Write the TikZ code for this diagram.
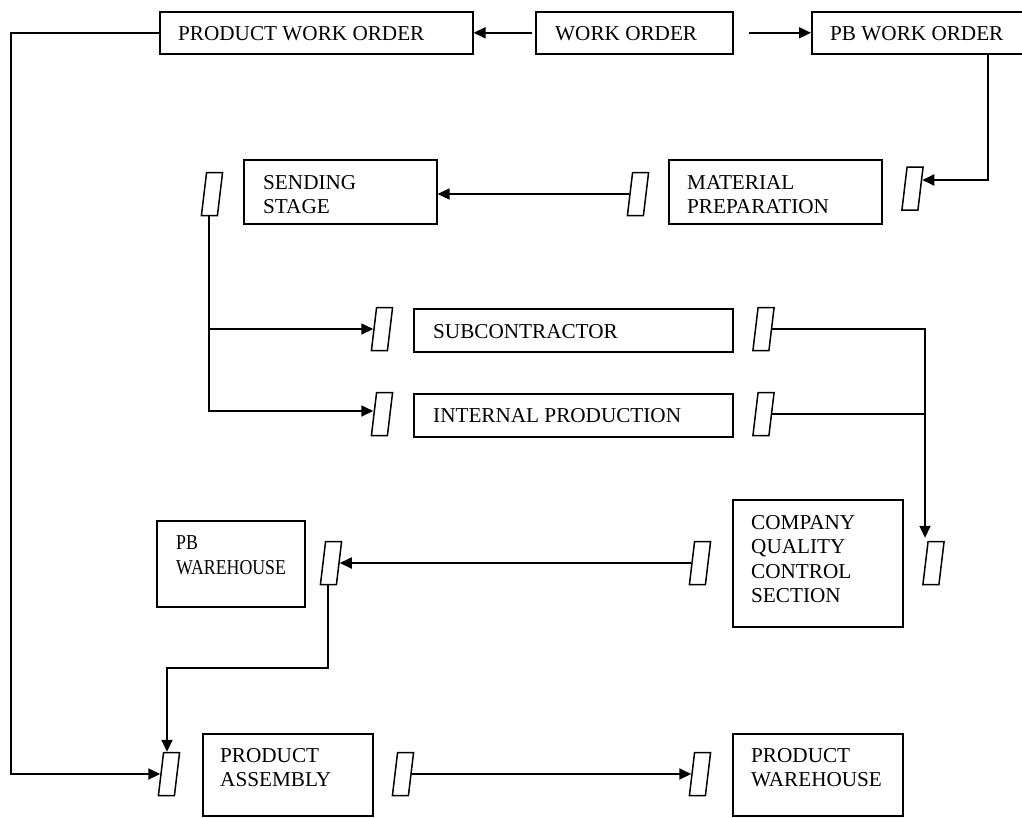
\documentclass[tikz,border=0pt]{standalone}
\usepackage{fontspec}
\setmainfont{Liberation Serif}
\newfontfamily\narrowserif[FakeStretch=0.84]{Liberation Serif}
\usetikzlibrary{arrows.meta}

\tikzset{
  proc/.style={draw, line width=1.6pt, anchor=north west, inner sep=0pt},
  lbl/.style={anchor=north west, inner sep=0pt, align=left,
              font=\fontsize{21.2}{24.5}\selectfont},
  store/.style={draw, line width=1.5pt, inner sep=0pt,
                minimum width=16pt, minimum height=43pt,
                xslant=0.12, transform shape},
  flow/.style={line width=1.8pt},
  arr/.style={flow, -{Triangle[length=12pt,width=11pt]}}
}

\begin{document}
\begin{tikzpicture}[x=1pt, y=-1pt]
\useasboundingbox (0,0) rectangle (1022,817);

% process boxes
\node[proc, minimum width=313pt, minimum height=42pt]  (pwo)  at (159,11)  {};
\node[proc, minimum width=197pt, minimum height=42pt]  (wo)   at (535,11)  {};
\node[proc, minimum width=225pt, minimum height=42pt]  (pbwo) at (811,11)  {};
\node[proc, minimum width=193pt, minimum height=64pt]  (send) at (243,159) {};
\node[proc, minimum width=213pt, minimum height=64pt]  (mat)  at (668,159) {};
\node[proc, minimum width=319pt, minimum height=43pt]  (sub)  at (413,308) {};
\node[proc, minimum width=319pt, minimum height=43pt]  (inp)  at (413,393) {};
\node[proc, minimum width=170pt, minimum height=127pt] (cqc)  at (732,499) {};
\node[proc, minimum width=148pt, minimum height=86pt]  (pbw)  at (156,520) {};
\node[proc, minimum width=170pt, minimum height=82pt]  (pa)   at (202,733) {};
\node[proc, minimum width=170pt, minimum height=82pt]  (pw)   at (732,733) {};

% box captions
\node[lbl] (pwo-t)  at (178,26)  {PRODUCT WORK ORDER};
\node[lbl] (wo-t)   at (555,26)  {WORK ORDER};
\node[lbl] (pbwo-t) at (830,26)  {PB WORK ORDER};
\node[lbl] (send-t) at (263,175) {SENDING\\STAGE};
\node[lbl] (mat-t)  at (687,175) {MATERIAL\\PREPARATION};
\node[lbl] (sub-t)  at (433,324) {SUBCONTRACTOR};
\node[lbl] (inp-t)  at (433,408) {INTERNAL PRODUCTION};
\node[lbl] (cqc-t)  at (751,515) {COMPANY\\QUALITY\\CONTROL\\SECTION};
\node[lbl, font=\narrowserif\fontsize{21.2}{25}\selectfont]
           (pbw-t)  at (176,535) {PB\\WAREHOUSE};
\node[lbl] (pa-t)   at (220,748) {PRODUCT\\ASSEMBLY};
\node[lbl] (pw-t)   at (751,748) {PRODUCT\\WAREHOUSE};

% storage symbols
\node[store] (s1)  at (912.5,188.5) {};
\node[store] (s2)  at (638,194)     {};
\node[store] (s3)  at (212,194)     {};
\node[store] (s4)  at (382,329)     {};
\node[store] (s5)  at (382,414)     {};
\node[store] (s6)  at (763.5,329)   {};
\node[store] (s7)  at (763.5,414)   {};
\node[store] (s8)  at (933.5,563)   {};
\node[store] (s9)  at (700,563)     {};
\node[store] (s10) at (331,563)     {};
\node[store] (s11) at (169,774)     {};
\node[store] (s12) at (403,774)     {};
\node[store] (s13) at (700,774)     {};

% routing points
\coordinate (leftrail) at (11,400);
\coordinate (pbdrop)   at (988,180);
\coordinate (merge)    at (925,0);
\coordinate (pbturn)   at (167,668);

% connectors
\draw[arr, shorten <=3pt] (wo.west) -- (pwo.east);
\draw[arr] ([xshift=15pt]wo.east) -- (pbwo.west);
\draw[arr] (pwo.west) -| (leftrail) |- (s11.west);
\draw[arr] (pbwo.south -| pbdrop) |- ([xshift=1pt]s1.east |- pbdrop);
\draw[arr] (s2.west) -- (s2.west -| send.east);
\draw[arr] (s3.south) |- (s4.west);
\draw[arr] (s3.south) |- ([yshift=3pt]s5.west);
\draw[arr, shorten >=3pt] (s6.east) -| (merge |- s8.north);
\draw[flow] (s7.east) -- (s7.east -| merge);
\draw[arr] (s9.west) -- (s10.east);
\draw[arr] (s10.south) |- (pbturn) -- (pbturn |- s11.north);
\draw[arr] (s12.east) -- (s13.west);
\end{tikzpicture}
\end{document}
